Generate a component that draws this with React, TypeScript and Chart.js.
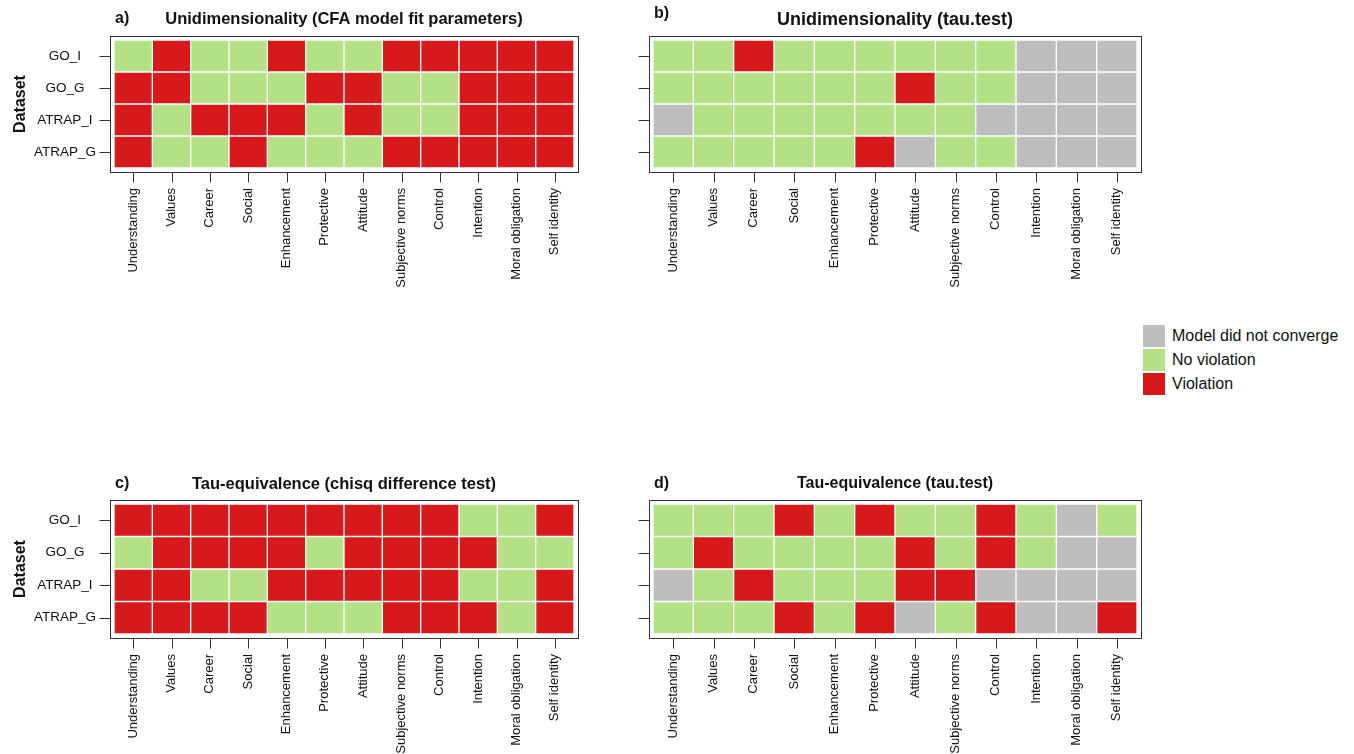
import React, { useEffect, useRef } from 'react';
import { Chart, registerables } from 'chart.js';

Chart.register(...registerables);

// ---------- data ----------
const constructs = [
  'Understanding', 'Values', 'Career', 'Social', 'Enhancement', 'Protective',
  'Attitude', 'Subjective norms', 'Control', 'Intention', 'Moral obligation', 'Self identity',
];
const datasetNames = ['GO_I', 'GO_G', 'ATRAP_I', 'ATRAP_G'];

// status codes: 0 = Model did not converge, 1 = No violation, 2 = Violation
const statusLabels = ['Model did not converge', 'No violation', 'Violation'];
const statusColors = ['#BEBEBE', '#B4E186', '#D7191C'];

// a) Unidimensionality (CFA model fit parameters)
const unidimCFA = [
  [1, 2, 1, 1, 2, 1, 1, 2, 2, 2, 2, 2],
  [2, 2, 1, 1, 1, 2, 2, 1, 1, 2, 2, 2],
  [2, 1, 2, 2, 2, 1, 2, 1, 1, 2, 2, 2],
  [2, 1, 1, 2, 1, 1, 1, 2, 2, 2, 2, 2],
];
// b) Unidimensionality (tau.test)
const unidimTau = [
  [1, 1, 2, 1, 1, 1, 1, 1, 1, 0, 0, 0],
  [1, 1, 1, 1, 1, 1, 2, 1, 1, 0, 0, 0],
  [0, 1, 1, 1, 1, 1, 1, 1, 0, 0, 0, 0],
  [1, 1, 1, 1, 1, 2, 0, 1, 1, 0, 0, 0],
];
// c) Tau-equivalence (chisq difference test)
const tauEqChisq = [
  [2, 2, 2, 2, 2, 2, 2, 2, 2, 1, 1, 2],
  [1, 2, 2, 2, 2, 1, 2, 2, 2, 2, 1, 1],
  [2, 2, 1, 1, 2, 2, 2, 2, 2, 1, 1, 2],
  [2, 2, 2, 2, 1, 1, 1, 2, 2, 2, 1, 2],
];
// d) Tau-equivalence (tau.test)
const tauEqTau = [
  [1, 1, 1, 2, 1, 2, 1, 1, 2, 1, 0, 1],
  [1, 2, 1, 1, 1, 1, 2, 1, 2, 1, 0, 0],
  [0, 1, 2, 1, 1, 1, 2, 2, 0, 0, 0, 0],
  [1, 1, 1, 2, 1, 2, 0, 1, 2, 0, 0, 2],
];

const FONT = '"Liberation Sans", Arial, Helvetica, sans-serif';
const FRAME = '#333333';

type PanelProps = {
  matrix: number[][];
  letter: string;
  title: string;
  titleSize: number;
  canvasLeft: number;
  canvasTop: number;
  canvasWidth: number;
  canvasHeight: number;
  plotLeft: number; // page coords
  plotRight: number;
  plotTop: number;
  plotBottom: number;
  letterY: number; // page coords (middle)
  titleY: number;
  showRowLabels: boolean;
};

function Panel(p: PanelProps) {
  const ref = useRef<HTMLCanvasElement | null>(null);

  useEffect(() => {
    if (!ref.current) return;
    const relLeft = p.plotLeft - p.canvasLeft;
    const relRight = p.plotRight - p.canvasLeft;
    const relTop = p.plotTop - p.canvasTop;
    const relBottom = p.plotBottom - p.canvasTop;

    const ds = p.matrix.map((row, r) => ({
      label: datasetNames[r],
      data: row.map(() => [datasetNames.length - 1 - r, datasetNames.length - r] as [number, number]),
      backgroundColor: row.map((v) => statusColors[v]),
      borderColor: '#FFFFFF',
      borderWidth: 1,
      borderSkipped: false as const,
      grouped: false,
      barPercentage: 1,
      categoryPercentage: 1,
    }));

    const decor = {
      id: 'panelDecor',
      afterDraw(chart: any) {
        const ctx = chart.ctx as CanvasRenderingContext2D;
        const a = chart.chartArea;
        const gap = 4;
        const bx0 = Math.round(a.left - gap) + 0.5;
        const by0 = Math.round(a.top - gap) + 0.5;
        const bx1 = Math.round(a.right + gap) + 0.5;
        const by1 = Math.round(a.bottom + gap) + 0.5;
        ctx.save();
        ctx.strokeStyle = FRAME;
        ctx.lineWidth = 1;
        ctx.strokeRect(bx0, by0, bx1 - bx0, by1 - by0);
        // x ticks
        const xs = chart.scales.x;
        ctx.beginPath();
        xs.ticks.forEach((_: any, i: number) => {
          const x = Math.round(xs.getPixelForTick(i)) + 0.5;
          ctx.moveTo(x, by1);
          ctx.lineTo(x, by1 + 10);
        });
        // y ticks
        const ys = chart.scales.y;
        ys.ticks.forEach((t: any) => {
          const y = Math.round(ys.getPixelForValue(t.value)) + 0.5;
          ctx.moveTo(bx0 - 11, y);
          ctx.lineTo(bx0, y);
        });
        ctx.stroke();
        // panel letter and title
        ctx.fillStyle = '#111111';
        ctx.textBaseline = 'middle';
        ctx.textAlign = 'left';
        ctx.font = `bold 16px ${FONT}`;
        ctx.fillText(p.letter, a.left + 1, p.letterY - p.canvasTop);
        ctx.textAlign = 'center';
        ctx.font = `bold ${p.titleSize}px ${FONT}`;
        ctx.fillText(p.title, (a.left + a.right) / 2, p.titleY - p.canvasTop);
        ctx.restore();
      },
    };

    const chart = new Chart(ref.current, {
      type: 'bar',
      data: { labels: constructs, datasets: ds as any },
      options: {
        responsive: false,
        animation: false,
        devicePixelRatio: 1,
        layout: {
          padding: { left: 0, top: relTop, right: p.canvasWidth - relRight, bottom: 0 },
        },
        plugins: {
          legend: { display: false },
          title: { display: false },
          tooltip: { enabled: false },
        },
        scales: {
          x: {
            type: 'category',
            offset: true,
            grid: { display: false, drawTicks: false },
            border: { display: false },
            ticks: {
              autoSkip: false,
              minRotation: 90,
              maxRotation: 90,
              padding: 20,
              color: '#111111',
              font: { family: FONT, size: 13 },
            },
            afterFit: (s: any) => {
              s.height = p.canvasHeight - relBottom;
            },
          },
          y: {
            type: 'linear',
            min: 0,
            max: datasetNames.length,
            grid: { display: false, drawTicks: false },
            border: { display: false },
            afterBuildTicks: (s: any) => {
              s.ticks = datasetNames.map((_, r) => ({ value: datasetNames.length - 0.5 - r }));
            },
            ticks: {
              autoSkip: false,
              crossAlign: 'center',
              padding: 18,
              color: '#111111',
              font: { family: FONT, size: 13.5 },
              callback: (v: any) =>
                p.showRowLabels ? datasetNames[Math.round(datasetNames.length - 0.5 - Number(v))] : '',
            },
            title: {
              display: p.showRowLabels,
              text: 'Dataset',
              color: '#111111',
              font: { family: FONT, size: 16, weight: 'bold' },
              padding: { top: 11, bottom: 0 },
            },
            afterFit: (s: any) => {
              s.width = relLeft;
            },
          },
        },
      },
      plugins: [decor],
    });
    return () => chart.destroy();
  }, []);

  return (
    <canvas
      ref={ref}
      width={p.canvasWidth}
      height={p.canvasHeight}
      style={{
        position: 'absolute',
        left: p.canvasLeft,
        top: p.canvasTop,
        width: p.canvasWidth,
        height: p.canvasHeight,
      }}
    />
  );
}

export default function App() {
  return (
    <div style={{ position: 'absolute', left: 0, top: 0, width: 1354, height: 754, background: '#FFFFFF', overflow: 'hidden' }}>
      <Panel
        matrix={unidimCFA}
        letter="a)"
        title="Unidimensionality (CFA model fit parameters)"
        titleSize={16.5}
        canvasLeft={0} canvasTop={0} canvasWidth={610} canvasHeight={300}
        plotLeft={114} plotRight={574} plotTop={40} plotBottom={168}
        letterY={19} titleY={19}
        showRowLabels={true}
      />
      <Panel
        matrix={unidimTau}
        letter="b)"
        title="Unidimensionality (tau.test)"
        titleSize={18}
        canvasLeft={615} canvasTop={0} canvasWidth={545} canvasHeight={300}
        plotLeft={653} plotRight={1137} plotTop={40} plotBottom={168}
        letterY={14} titleY={20}
        showRowLabels={false}
      />
      <Panel
        matrix={tauEqChisq}
        letter="c)"
        title="Tau-equivalence (chisq difference test)"
        titleSize={16.5}
        canvasLeft={0} canvasTop={460} canvasWidth={610} canvasHeight={294}
        plotLeft={114} plotRight={574} plotTop={504} plotBottom={634}
        letterY={484} titleY={484}
        showRowLabels={true}
      />
      <Panel
        matrix={tauEqTau}
        letter="d)"
        title="Tau-equivalence (tau.test)"
        titleSize={16}
        canvasLeft={615} canvasTop={460} canvasWidth={545} canvasHeight={294}
        plotLeft={653} plotRight={1137} plotTop={504} plotBottom={634}
        letterY={484} titleY={484}
        showRowLabels={false}
      />
      <div style={{ position: 'absolute', left: 1143, top: 324, fontFamily: FONT, fontSize: 16, color: '#111111' }}>
        {statusLabels.map((lab, i) => (
          <div key={lab} style={{ display: 'flex', alignItems: 'center', height: 24 }}>
            <div style={{ width: 22, height: 22, background: statusColors[i], marginRight: 7 }} />
            <span style={{ lineHeight: '24px', whiteSpace: 'nowrap' }}>{lab}</span>
          </div>
        ))}
      </div>
    </div>
  );
}
